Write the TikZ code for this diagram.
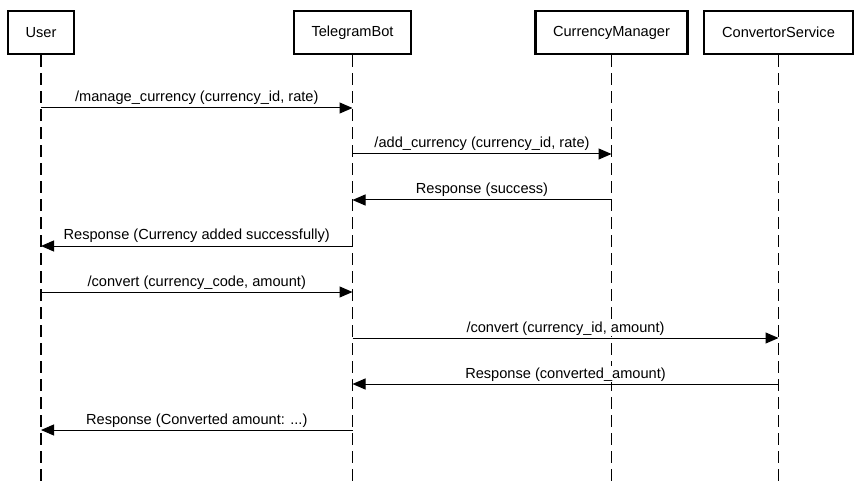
\documentclass[tikz,border=0pt]{standalone}
\usepackage{fontspec}
\setmainfont{Liberation Sans}
\usepackage{tikz}
\usetikzlibrary{arrows.meta}
\usetikzlibrary{calc}

\tikzset{
    actor/.style    = {draw, line width=2.2pt, minimum height=43pt, inner sep=0pt,
                       font=\fontsize{14.6}{17}\selectfont},
    lifeline/.style = {line width=1.5pt, dash pattern=on 12pt off 6pt},
    msg/.style      = {line width=1pt, -{Triangle[length=13pt, width=11pt]}},
    msglabel/.style = {fill=white, inner sep=1pt, anchor=base, yshift=6pt,
                       font=\fontsize{14.6}{17}\selectfont}
}

\begin{document}
\begin{tikzpicture}[x=1pt, y=-1pt]
            % Frame to fix the page size
            \useasboundingbox                                      (0, 0) rectangle (861, 486);
            % Participants
            \node[actor, minimum width= 66pt] (user) at ( 41.0, 32.5) {User};
            \node[actor, minimum width=117pt] (bot)  at (352.5, 32.5) {TelegramBot};
            \node[actor, minimum width=152pt] (cm)   at (611.5, 32.5) {CurrencyManager};
            \node[actor, minimum width=149pt] (cs)   at (778.5, 32.5) {ConvertorService};
            % Lifelines
            \coordinate (bottom) at (0, 481);
            \draw[lifeline] (user.south) -- (user |- bottom);
            \draw[lifeline] (bot.south)  -- (bot  |- bottom);
            \draw[lifeline] (cm.south)   -- (cm   |- bottom);
            \draw[lifeline] (cs.south)   -- (cs   |- bottom);
            % Message rows
            \foreach \r/\y in {1/108, 2/154, 3/200, 4/246, 5/292, 6/338, 7/384, 8/430}
                \coordinate (r\r) at (0, \y);
            % Add currency
            \draw[msg] (user |- r1) -- (bot  |- r1) node[midway, msglabel] {/manage\_currency (currency\_id, rate)};
            \draw[msg] (bot  |- r2) -- (cm   |- r2) node[midway, msglabel] {/add\_currency (currency\_id, rate)};
            \draw[msg] (cm   |- r3) -- (bot  |- r3) node[midway, msglabel] {Response (success)};
            \draw[msg] (bot  |- r4) -- (user |- r4) node[midway, msglabel] {Response (Currency added successfully)};
            % Convert
            \draw[msg] (user |- r5) -- (bot  |- r5) node[midway, msglabel] {/convert (currency\_code, amount)};
            \draw[msg] (bot  |- r6) -- (cs   |- r6) node[midway, msglabel] {/convert (currency\_id, amount)};
            \draw[msg] (cs   |- r7) -- (bot  |- r7) node[midway, msglabel] {Response (converted\_amount)};
            \draw[msg] (bot  |- r8) -- (user |- r8) node[midway, msglabel] {Response (Converted amount: ...)};
\end{tikzpicture}
\end{document}
